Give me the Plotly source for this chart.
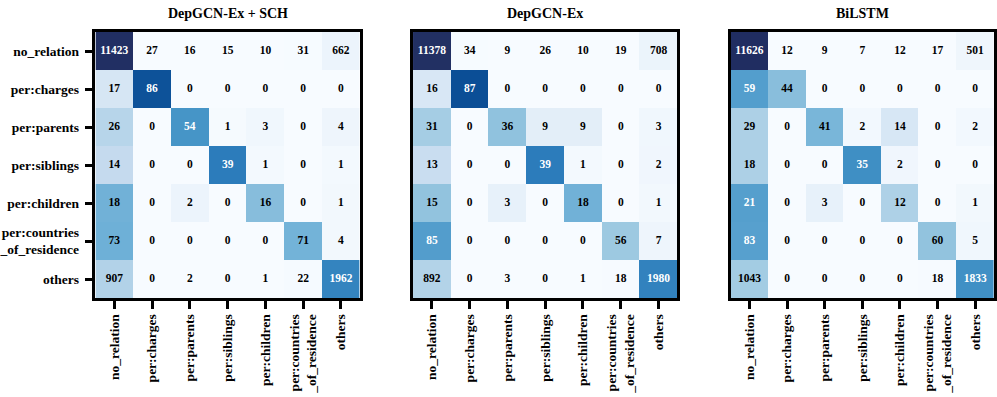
import numpy as np
import plotly.graph_objects as go

# Class labels (rows = true, columns = predicted)
labels = ["no_relation", "per:charges", "per:parents", "per:siblings",
          "per:children", "per:countries<br>_of_residence", "others"]

titles = ["DepGCN-Ex + SCH", "DepGCN-Ex", "BiLSTM"]

cm_sch = [
    [11423, 27, 16, 15, 10, 31, 662],
    [17, 86, 0, 0, 0, 0, 0],
    [26, 0, 54, 1, 3, 0, 4],
    [14, 0, 0, 39, 1, 0, 1],
    [18, 0, 2, 0, 16, 0, 1],
    [73, 0, 0, 0, 0, 71, 4],
    [907, 0, 2, 0, 1, 22, 1962],
]

cm_depgcn = [
    [11378, 34, 9, 26, 10, 19, 708],
    [16, 87, 0, 0, 0, 0, 0],
    [31, 0, 36, 9, 9, 0, 3],
    [13, 0, 0, 39, 1, 0, 2],
    [15, 0, 3, 0, 18, 0, 1],
    [85, 0, 0, 0, 0, 56, 7],
    [892, 0, 3, 0, 1, 18, 1980],
]

cm_bilstm = [
    [11626, 12, 9, 7, 12, 17, 501],
    [59, 44, 0, 0, 0, 0, 0],
    [29, 0, 41, 2, 14, 0, 2],
    [18, 0, 0, 35, 2, 0, 0],
    [21, 0, 3, 0, 12, 0, 1],
    [83, 0, 0, 0, 0, 60, 5],
    [1043, 0, 0, 0, 0, 18, 1833],
]

matrices = [cm_sch, cm_depgcn, cm_bilstm]

# Blues-style scale, deepening to navy at the top end
blues = [
    [0.000, "rgb(247,251,255)"], [0.125, "rgb(222,235,247)"],
    [0.250, "rgb(198,219,239)"], [0.375, "rgb(158,202,225)"],
    [0.500, "rgb(107,174,214)"], [0.625, "rgb(66,146,198)"],
    [0.750, "rgb(33,113,181)"], [0.850, "rgb(10,76,148)"],
    [0.930, "rgb(34,48,100)"], [1.000, "rgb(28,40,90)"],
]

W, H = 997, 397
FONT = "Liberation Serif, Times New Roman, serif"

fig = go.Figure()

left_px = [93, 412.5, 732]
panel_w = 266
top_px, bot_px = 32, 298

for i, (cm, title) in enumerate(zip(matrices, titles)):
    counts = np.array(cm, dtype=float)
    norm = counts / counts.sum(axis=1, keepdims=True)
    xa = "x" if i == 0 else f"x{i+1}"
    ya = "y" if i == 0 else f"y{i+1}"

    fig.add_trace(go.Heatmap(
        z=norm, x=labels, y=labels, colorscale=blues, zmin=0, zmax=1,
        showscale=False, hoverinfo="skip", xaxis=xa, yaxis=ya,
    ))

    xs, ys, txt, cols = [], [], [], []
    for r, row_lab in enumerate(labels):
        for c, col_lab in enumerate(labels):
            xs.append(col_lab)
            ys.append(row_lab)
            txt.append(str(int(counts[r, c])))
            cols.append("white" if norm[r, c] > 0.5 else "black")
    fig.add_trace(go.Scatter(
        x=xs, y=ys, text=txt, mode="text", xaxis=xa, yaxis=ya,
        textfont=dict(family=FONT, size=11.5, color=cols, weight="bold"),
        hoverinfo="skip", showlegend=False,
    ))

    x0 = left_px[i] / W
    x1 = min((left_px[i] + panel_w) / W, 1.0)
    axis_common = dict(
        showline=True, mirror=True, linecolor="black", linewidth=2.5,
        ticks="outside", ticklen=8, tickwidth=2.5, tickcolor="black",
        showgrid=False, zeroline=False, type="category",
        tickfont=dict(family=FONT, size=13.5, color="black", weight="bold"),
    )
    fig.update_layout(**{
        ("xaxis" if i == 0 else f"xaxis{i+1}"): dict(
            axis_common, domain=[x0, x1], anchor=ya, tickangle=-90,
            range=[-0.5, 6.5],
        ),
        ("yaxis" if i == 0 else f"yaxis{i+1}"): dict(
            axis_common, domain=[1 - bot_px / H, 1 - top_px / H], anchor=xa,
            range=[6.5, -0.5], showticklabels=(i == 0),
            ticks="outside" if i == 0 else "", ticklabelstandoff=3,
        ),
    })

    fig.add_annotation(
        text=title, x=(x0 + (left_px[i] + panel_w) / W) / 2, y=1 - 13 / H,
        xref="paper", yref="paper", showarrow=False,
        font=dict(family=FONT, size=14, color="black", weight="bold"),
        xanchor="center", yanchor="middle",
    )

fig.update_layout(
    width=W, height=H, margin=dict(l=0, r=0, t=0, b=0),
    paper_bgcolor="white", plot_bgcolor="white", showlegend=False,
)

fig.write_html("out.html")
